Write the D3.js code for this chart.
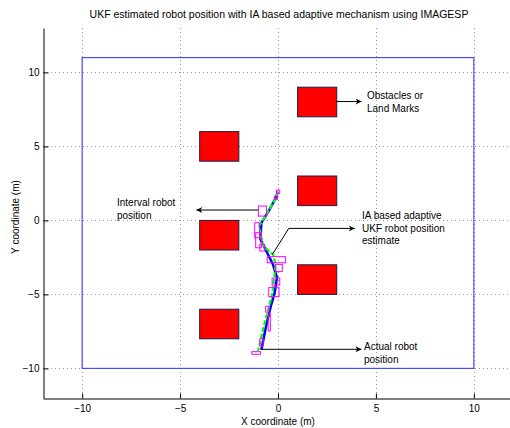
<!DOCTYPE html>
<html>
<head>
<meta charset="utf-8">
<style>
  body { margin: 0; background: #fff; }
  svg text { font-family: "Liberation Sans", Arial, Helvetica, sans-serif; font-size: 10px; fill: #000; }
</style>
</head>
<body>
<svg width="510" height="428"></svg>
<script src="https://d3js.org/d3.v7.min.js"></script>
<script>
// ---- data ----
const xTicks = [-10, -5, 0, 5, 10];
const yTicks = [-10, -5, 0, 5, 10];

// map border (blue)
const borderX = [-10, 10];
const borderY = [-10, 11];

// obstacles / land marks: lower-left corners, each 2 x 2 m
const obsX = [1, -4, 1, -4, 1, -4];
const obsY = [7, 4, 1, -2, -5, -8];
const obsSize = 2;

// actual robot path (blue)
const actualX = [0, -0.12, -0.45, -0.85, -0.9, -0.6, -0.25, -0.05, -0.17, -0.34, -0.59, -0.85];
const actualY = [1.94, 1.5, 0.7, -0.16, -1.28, -2.07, -3.0, -3.87, -4.88, -5.67, -7.02, -8.75];

// IA based adaptive UKF estimate (green)
const estX = [0, -0.15, -0.6, -0.97, -0.76, -0.25, -0.12, -0.2, -0.3, -0.5, -0.75, -1.02];
const estY = [1.94, 1.4, 0.4, -0.38, -1.73, -2.3, -3.0, -4.0, -5.0, -6.0, -7.3, -8.82];

// interval robot position boxes (magenta)
const boxX0 = [-0.08, -0.18, -1.0, -1.19, -1.14, -0.93, -0.55, -0.12, -0.3, -0.47, -0.63, -0.5, -0.93, -1.34];
const boxX1 = [0.09, -0.03, -0.59, -0.94, -0.85, -0.68, 0.39, 0.22, 0.09, 0.05, -0.46, -0.39, -0.76, -0.9];
const boxY0 = [1.82, 1.42, 0.29, -1.17, -1.85, -2.07, -2.86, -3.46, -4.37, -5.15, -6.2, -7.47, -8.5, -9.05];
const boxY1 = [2.05, 1.64, 0.97, -0.16, -0.83, -1.62, -2.45, -2.97, -3.9, -4.54, -5.8, -6.35, -8.0, -8.87];

// ---- layout ----
const svg = d3.select("svg");
const mLeft = 43, mRight = 513, mTop = 28, mBottom = 398;

const x = d3.scaleLinear().domain([-12, 12]).range([mLeft, mRight]);
const y = d3.scaleLinear().domain([-12, 13]).range([mBottom, mTop]);

svg.append("defs").append("marker")
    .attr("id", "arrow")
    .attr("viewBox", "0 0 10 10")
    .attr("refX", 10).attr("refY", 5)
    .attr("markerWidth", 9).attr("markerHeight", 6)
    .attr("markerUnits", "userSpaceOnUse")
    .attr("orient", "auto")
  .append("path")
    .attr("d", "M0,0L10,5L0,10L3,5Z")
    .attr("fill", "#000");

// grid
const grid = svg.append("g")
    .attr("stroke", "#999")
    .attr("stroke-width", 1)
    .attr("stroke-dasharray", "1,3");
grid.selectAll(".gx").data(xTicks).join("line")
    .attr("x1", d => Math.round(x(d)) + 0.5).attr("x2", d => Math.round(x(d)) + 0.5)
    .attr("y1", mTop).attr("y2", mBottom);
grid.selectAll(".gy").data(yTicks).join("line")
    .attr("y1", d => Math.round(y(d)) + 0.5).attr("y2", d => Math.round(y(d)) + 0.5)
    .attr("x1", mLeft).attr("x2", mRight);

// axes (ticks pointing inward, like matlab)
const xAxis = svg.append("g")
    .attr("transform", `translate(0,${mBottom + 0.5})`)
    .call(d3.axisBottom(x).tickValues(xTicks).tickSize(-5).tickSizeOuter(0).tickPadding(6));
const yAxis = svg.append("g")
    .attr("transform", `translate(${mLeft + 0.5},0)`)
    .call(d3.axisLeft(y).tickValues(yTicks).tickSize(-5).tickSizeOuter(0).tickPadding(4));
[xAxis, yAxis].forEach(a => {
  a.attr("font-size", null).attr("font-family", null);
  a.select(".domain").attr("stroke", "#000");
  a.selectAll(".tick line").attr("stroke", "#000");
});

// map border
svg.append("rect")
    .attr("x", x(borderX[0])).attr("y", y(borderY[1]))
    .attr("width", x(borderX[1]) - x(borderX[0]))
    .attr("height", y(borderY[0]) - y(borderY[1]))
    .attr("fill", "none")
    .attr("stroke", "#4a4aff")
    .attr("stroke-width", 1.2);

// obstacles
svg.append("g").selectAll("rect")
  .data(obsX.map((d, i) => [d, obsY[i]]))
  .join("rect")
    .attr("x", d => x(d[0]))
    .attr("y", d => y(d[1] + obsSize))
    .attr("width", d => x(d[0] + obsSize) - x(d[0]))
    .attr("height", d => y(d[1]) - y(d[1] + obsSize))
    .attr("fill", "#ff0000")
    .attr("stroke", "#1c1c4c")
    .attr("stroke-width", 1);

// paths
const line = d3.line().x(d => x(d[0])).y(d => y(d[1]));
svg.append("path")
    .datum(actualX.map((d, i) => [d, actualY[i]]))
    .attr("d", line)
    .attr("fill", "none")
    .attr("stroke", "#0000ff")
    .attr("stroke-width", 2.5);
svg.append("path")
    .datum(estX.map((d, i) => [d, estY[i]]))
    .attr("d", line)
    .attr("fill", "none")
    .attr("stroke", "#00ff00")
    .attr("stroke-width", 2.2)
    .attr("stroke-dasharray", "5,2");

// interval boxes
svg.append("g").selectAll("rect")
  .data(boxX0.map((d, i) => ({x0: d, x1: boxX1[i], y0: boxY0[i], y1: boxY1[i]})))
  .join("rect")
    .attr("x", d => x(d.x0))
    .attr("y", d => y(d.y1))
    .attr("width", d => x(d.x1) - x(d.x0))
    .attr("height", d => y(d.y0) - y(d.y1))
    .attr("fill", "none")
    .attr("stroke", "#ff00ff")
    .attr("stroke-width", 1);

// annotations
const ann = svg.append("g");
function arrow(pts) {
  ann.append("path")
      .attr("d", d3.line()(pts.map(p => [x(p[0]), y(p[1])])))
      .attr("fill", "none")
      .attr("stroke", "#000")
      .attr("stroke-width", 1)
      .attr("marker-end", "url(#arrow)");
}
function label(px, py, lines) {
  const t = ann.append("text").attr("x", px).attr("y", py);
  lines.forEach((s, i) => t.append("tspan").attr("x", px).attr("dy", i ? 12.5 : 0).text(s));
}
arrow([[3, 8.03], [4.27, 8.03]]);
label(367, 99, ["Obstacles or", "Land Marks"]);

arrow([[-1.02, 0.7], [-4.17, 0.7]]);
label(117, 206, ["Interval robot", "position"]);

arrow([[-0.29, -2.3], [0.55, -0.54], [3.92, -0.54]]);
label(362, 219, ["IA based adaptive", "UKF robot position", "estimate"]);

arrow([[-0.85, -8.71], [4.26, -8.71]]);
label(364, 350, ["Actual robot", "position"]);

// titles
svg.append("text")
    .attr("x", 279).attr("y", 18)
    .attr("text-anchor", "middle")
    .style("font-size", "10.5px")
    .text("UKF estimated robot position with IA based adaptive mechanism using IMAGESP");
svg.append("text")
    .attr("x", 278).attr("y", 425)
    .attr("text-anchor", "middle")
    .text("X coordinate (m)");
svg.append("text")
    .attr("transform", "translate(19,217) rotate(-90)")
    .attr("text-anchor", "middle")
    .text("Y coordinate (m)");
</script>
</body>
</html>
